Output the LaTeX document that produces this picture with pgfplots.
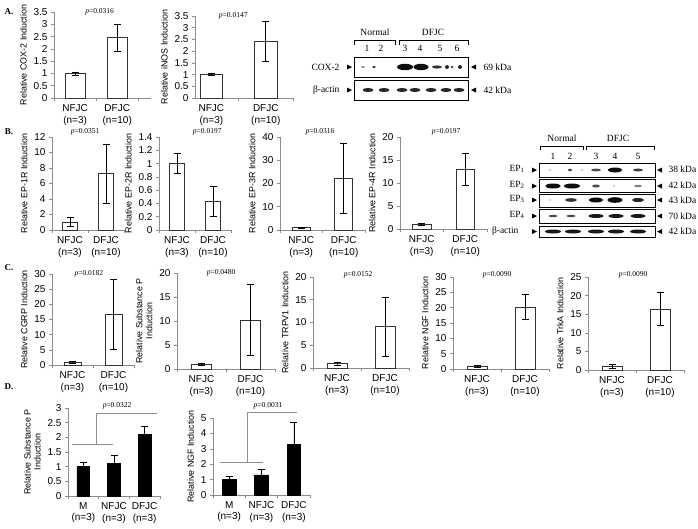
\documentclass[border=0pt]{standalone}
\usepackage{fontspec}
\setmainfont{Liberation Sans}
\newfontfamily\tms{Liberation Serif}
\usepackage{pgfplots}
\pgfplotsset{compat=1.18}

\pgfplotsset{
  exbar/.style={
    scale only axis, anchor=south west, clip=false,
    axis x line*=bottom, axis y line*=left,
    axis line style={draw=black!45, line width=0.6pt},
    ymin=0, xmin=-0.5, xmax=1.5,
    xtick={0,1},
    xticklabels={{NFJC\\(n=3)},{DFJC\\(n=10)}},
    xtick style={draw=none},
    extra x ticks={-0.5,0.5,1.5},
    extra x tick labels={,,},
    extra x tick style={xtick style={draw=black!45, line width=0.6pt}},
    ytick style={draw=black!45, line width=0.6pt},
    tick align=outside, major tick length=3pt,
    tick label style={font=\fontsize{10}{11.5}\selectfont},
    xticklabel style={align=center},
    ylabel style={font=\fontsize{8.9}{10}\selectfont, align=center},
    /pgf/number format/assume math mode=true,
    ybar, bar width=0.42,
  },
  wbar/.style={draw=black!80, fill=white, line width=0.7pt,
    error bars/.cd, y dir=both, y explicit,
    error bar style={black, line width=0.6pt},
    error mark options={rotate=90, mark size=3.5pt, black, line width=0.6pt}},
  kbar/.style={draw=black, fill=black, line width=0.6pt,
    error bars/.cd, y dir=plus, y explicit,
    error bar style={black, line width=0.6pt},
    error mark options={rotate=90, mark size=3.5pt, black, line width=0.6pt}},
}
\tikzset{pval/.style={font=\tms\fontsize{7.5}{9}\selectfont}}

% blot helpers (x, y, half width, half height, shade)
\newcommand{\bd}[5]{\fill[black!#5] (#1,#2) ellipse [x radius=#3pt, y radius=#4pt];}
\newcommand{\rtri}[2]{\fill (#1,#2) -- ++(-5,-2.5) -- ++(0,5) -- cycle;}
\newcommand{\ltri}[2]{\fill (#1,#2) -- ++(5,-2.5) -- ++(0,5) -- cycle;}
\newcommand{\blotfont}{\tms\fontsize{9.5}{11}\selectfont}

\begin{document}
\begin{tikzpicture}
\useasboundingbox (0pt,0pt) rectangle (698pt,-528pt);

% ---------- A ----------
\begin{axis}[exbar, at={(54pt,-98pt)}, width=97pt, height=86pt,
  xmax=1.8, ymax=3.5, ytick distance=0.5, bar width=0.48,
  ylabel={Relative COX-2 Induction}]
\addplot[wbar] coordinates {(0,1.0) +- (0,0.06) (1,2.45) +- (0,0.55)};
\node[pval] at (rel axis cs:0.47,1.0) {\textit{p}=0.0316};
\end{axis}

\begin{axis}[exbar, at={(195pt,-98pt)}, width=98pt, height=82pt,
  xmin=-0.3, extra x ticks={0.5,1.5}, extra x tick labels={,},
  ymax=3.5, ytick distance=0.5,
  ylabel={Relative iNOS Induction}]
\addplot[wbar] coordinates {(0,1.0) +- (0,0.04) (1,2.43) +- (0,0.85)};
\node[pval] at (rel axis cs:0.39,1.0) {\textit{p}=0.0147};
\end{axis}

% ---------- B ----------
\begin{axis}[exbar, at={(52pt,-230pt)}, width=72pt, height=93pt,
  ymax=12, ytick distance=2,
  ylabel={Relative EP-1R Induction}]
\addplot[wbar] coordinates {(0,1.05) +- (0,0.53) (1,7.3) +- (0,3.8)};
\node[pval] at (rel axis cs:0.46,1.06) {\textit{p}=0.0351};
\end{axis}

\begin{axis}[exbar, at={(159pt,-230pt)}, width=72pt, height=93pt,
  ymax=1.4, ytick={0,0.2,0.4,0.6,0.8,1,1.2,1.4},
  ylabel={Relative EP-2R Induction}]
\addplot[wbar] coordinates {(0,1.0) +- (0,0.15) (1,0.43) +- (0,0.23)};
\node[pval] at (rel axis cs:0.67,1.06) {\textit{p}=0.0197};
\end{axis}

\begin{axis}[exbar, at={(280pt,-230pt)}, width=85pt, height=93pt,
  ymax=40, ytick distance=10,
  ylabel={Relative EP-3R Induction}]
\addplot[wbar] coordinates {(0,1.0) +- (0,0.15) (1,22.3) +- (0,15.1)};
\node[pval] at (rel axis cs:0.47,1.06) {\textit{p}=0.0316};
\end{axis}

\begin{axis}[exbar, at={(400pt,-229pt)}, width=87pt, height=92pt,
  ymax=20, ytick distance=5,
  ylabel={Relative EP-4R Induction}]
\addplot[wbar] coordinates {(0,1.0) +- (0,0.25) (1,13.0) +- (0,3.5)};
\node[pval] at (rel axis cs:0.53,1.06) {\textit{p}=0.0197};
\end{axis}

% ---------- C ----------
\begin{axis}[exbar, at={(52pt,-365pt)}, width=82pt, height=91pt,
  ymax=30, ytick distance=5,
  ylabel={Relative CGRP Induction}]
\addplot[wbar] coordinates {(0,1.0) +- (0,0.3) (1,16.8) +- (0,11.5)};
\node[pval] at (rel axis cs:0.45,1.0) {\textit{p}=0.0182};
\end{axis}

\begin{axis}[exbar, at={(177pt,-369pt)}, width=98pt, height=96pt,
  ymax=20, ytick distance=5,
  ylabel={Relative Substance P\\Induction}]
\addplot[wbar] coordinates {(0,1.0) +- (0,0.2) (1,10.2) +- (0,7.4)};
\node[pval] at (rel axis cs:0.45,1.0) {\textit{p}=0.0480};
\end{axis}

\begin{axis}[exbar, at={(313pt,-368pt)}, width=96pt, height=91pt,
  ymax=20, ytick distance=5,
  ylabel={Relative TRPV1 Induction}]
\addplot[wbar] coordinates {(0,1.0) +- (0,0.35) (1,9.1) +- (0,6.5)};
\node[pval] at (rel axis cs:0.47,1.02) {\textit{p}=0.0152};
\end{axis}

\begin{axis}[exbar, at={(453pt,-369pt)}, width=96pt, height=92pt,
  ymax=30, ytick distance=5,
  ylabel={Relative NGF Induction}]
\addplot[wbar] coordinates {(0,1.0) +- (0,0.35) (1,20.2) +- (0,4.1)};
\node[pval] at (rel axis cs:0.46,1.02) {\textit{p}=0.0090};
\end{axis}

\begin{axis}[exbar, at={(588pt,-370pt)}, width=96pt, height=93pt,
  ymax=25, ytick distance=5,
  ylabel={Relative TrkA Induction}]
\addplot[wbar] coordinates {(0,1.0) +- (0,0.5) (1,16.4) +- (0,4.4)};
\node[pval] at (rel axis cs:0.47,1.02) {\textit{p}=0.0090};
\end{axis}

% ---------- D ----------
\begin{axis}[exbar, at={(68pt,-496pt)}, width=92pt, height=88pt,
  xmin=-0.5, xmax=2.5, xtick={0,1,2},
  xticklabels={{M\\(n=3)},{NFJC\\(n=3)},{DFJC\\(n=3)}},
  extra x ticks={-0.5,0.5,1.5,2.5}, extra x tick labels={,,,},
  ymax=3, ytick distance=0.5,
  ylabel={Relative Substance P\\Induction}]
\addplot[kbar] coordinates {(0,1.0) +- (0,0.15) (1,1.12) +- (0,0.28) (2,2.1) +- (0,0.28)};
\draw[black!45, line width=0.6pt] (axis cs:-0.37,1.77) -- (axis cs:0.97,1.77);
\draw[black!45, line width=0.6pt] (axis cs:0.41,1.77) -- (axis cs:0.41,2.83) -- (axis cs:2.4,2.83);
\node[pval] at (axis cs:1.1,3.07) {\textit{p}=0.0322};
\end{axis}

\begin{axis}[exbar, at={(213pt,-495pt)}, width=97pt, height=77pt,
  xmin=-0.5, xmax=2.5, xtick={0,1,2},
  xticklabels={{M\\(n=3)},{NFJC\\(n=3)},{DFJC\\(n=3)}},
  extra x ticks={-0.5,0.5,1.5,2.5}, extra x tick labels={,,,},
  ymax=5, ytick distance=1,
  ylabel={Relative NGF Induction}]
\addplot[kbar] coordinates {(0,1.0) +- (0,0.2) (1,1.3) +- (0,0.35) (2,3.3) +- (0,1.45)};
\draw[black!45, line width=0.6pt] (axis cs:-0.28,2.14) -- (axis cs:1.05,2.14);
\draw[black!45, line width=0.6pt] (axis cs:0.56,2.14) -- (axis cs:0.56,5.4) -- (axis cs:2.1,5.4);
\node[pval] at (axis cs:1.2,5.78) {\textit{p}=0.0031};
\end{axis}

% ---------- panel letters and blots ----------
\begin{scope}[x=1pt, y=-1pt]
\foreach \l/\yy in {A./12, B./132, C./268, D./387}
  \node[font=\tms\bfseries\fontsize{9}{10}\selectfont] at (9,\yy) {\l};

% blot A
\node[font=\blotfont] at (375,32) {Normal};
\node[font=\blotfont] at (433,32) {DFJC};
\draw[line width=0.5pt] (354,45) -- (354,40) -- (395,40) -- (395,45);
\draw[line width=0.5pt] (399,45) -- (399,40) -- (468,40) -- (468,45);
\foreach \n/\xx in {1/367, 2/381, 3/405, 4/420, 5/440, 6/457}
  \node[font=\blotfont] at (\xx,48.5) {\n};
\draw[line width=0.6pt] (354,57) rectangle (468,77);
\draw[line width=0.6pt] (354,80) rectangle (468,100);
\bd{363}{67}{2}{0.8}{50}
\bd{374}{67}{1.8}{1.3}{80}
\bd{405}{67}{8}{3.2}{95}
\bd{421}{67}{7.5}{3.2}{95}
\bd{437}{67}{5}{1.6}{80}
\bd{447}{67}{2}{2}{85}
\bd{452}{67}{1.5}{1.3}{75}
\bd{460}{67}{2}{2}{85}
\foreach \xx in {368,384,402,415,431,446,459} {\bd{\xx}{90}{5.5}{2}{85}}
\node[font=\blotfont, anchor=east] at (343,67) {COX-2};
\node[font=\blotfont, anchor=east] at (343,90) {β-actin};
\rtri{352}{67} \rtri{352}{90}
\ltri{471}{67} \ltri{471}{90}
\node[font=\blotfont, anchor=west] at (480,67) {69 kDa};
\node[font=\blotfont, anchor=west] at (480,90) {42 kDa};

% blot B
\node[font=\blotfont] at (562,138) {Normal};
\node[font=\blotfont] at (618,138) {DFJC};
\draw[line width=0.5pt] (540,150) -- (540,146) -- (583,146) -- (583,150);
\draw[line width=0.5pt] (586,150) -- (586,146) -- (654,146) -- (654,150);
\foreach \n/\xx in {1/553, 2/570, 3/596, 4/615, 5/638}
  \node[font=\blotfont] at (\xx,156) {\n};
\foreach \ya/\yb in {163/177, 179/192, 194/207, 209/223, 226/237}
  \draw[line width=0.6pt] (539,\ya) rectangle (655,\yb);
% EP1
\bd{550}{170}{1}{0.7}{50}
\bd{570}{170}{2}{1.2}{75}
\bd{582}{170}{1}{0.7}{50}
\bd{596}{170}{5}{1.4}{70}
\bd{615}{170}{7}{2.5}{95}
\bd{638}{170}{5}{1.5}{75}
% EP2
\bd{553}{186}{7.5}{2.5}{95}
\bd{572}{186}{8}{2.5}{95}
\bd{596}{186}{4}{1.5}{70}
\bd{614}{186}{1}{0.7}{40}
\bd{638}{186}{4}{1.2}{50}
% EP3
\bd{550}{200}{1.5}{0.7}{35}
\bd{571}{200}{6}{1.8}{80}
\bd{596}{200}{7}{2.5}{95}
\bd{615}{200}{7.5}{2.8}{95}
\bd{638}{200}{6}{2}{85}
% EP4
\bd{553}{216}{4.5}{1.2}{70}
\bd{571}{216}{4.5}{1.2}{70}
\bd{596}{216}{7.5}{2}{90}
\bd{616}{216}{7.5}{2}{90}
\bd{638}{216}{7.5}{2}{90}
% beta-actin
\foreach \xx in {553,573,596,616,638} {\bd{\xx}{231.5}{8}{2}{90}}
\node[font=\blotfont, anchor=east] at (528,169) {EP\textsubscript{1}};
\node[font=\blotfont, anchor=east] at (528,185) {EP\textsubscript{2}};
\node[font=\blotfont, anchor=east] at (528,199) {EP\textsubscript{3}};
\node[font=\blotfont, anchor=east] at (528,215) {EP\textsubscript{4}};
\node[font=\blotfont, anchor=east] at (522,231) {β-actin};
\foreach \yy in {170,186,200,216,231.5} {\rtri{537}{\yy} \ltri{657}{\yy}}
\node[font=\blotfont, anchor=west] at (665,169.5) {38 kDa};
\node[font=\blotfont, anchor=west] at (665,185.5) {42 kDa};
\node[font=\blotfont, anchor=west] at (665,200) {43 kDa};
\node[font=\blotfont, anchor=west] at (665,216) {70 kDa};
\node[font=\blotfont, anchor=west] at (665,231) {42 kDa};
\end{scope}
\end{tikzpicture}
\end{document}
